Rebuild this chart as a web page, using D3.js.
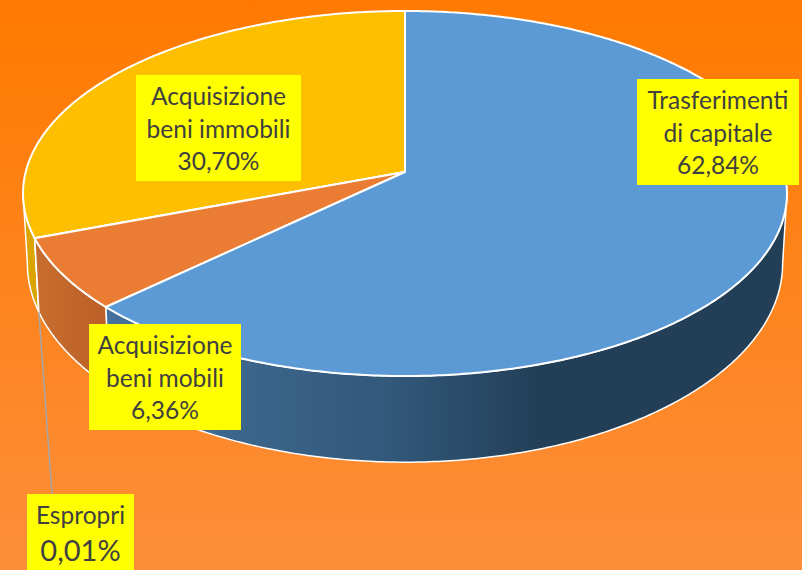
<!DOCTYPE html>
<html><head><meta charset="utf-8">
<script src="https://cdnjs.cloudflare.com/ajax/libs/d3/7.8.5/d3.min.js"></script>
<style>html,body{margin:0;padding:0;background:#fc8d38}svg{display:block}</style>
</head><body><svg id="c" width="802" height="570"></svg>
<script>
const categories = ["Trasferimenti di capitale","Acquisizione beni mobili","Espropri","Acquisizione beni immobili"];
const shares = [62.84,6.36,0.01,30.70];
const shareLabels = ["62,84%","6,36%","0,01%","30,70%"];
const labelLines = [["Trasferimenti","di capitale"],["Acquisizione","beni mobili"],["Espropri"],["Acquisizione","beni immobili"]];

const faceColors = ["#5b9ad5","#eb7c33","#a5a5a5","#fdbf00"];
const wallColors = ["url(#blueWall)","url(#orangeWall)","#8c8c8c","#dba400"];
// label box: x, y, w, h
const boxes = [[637,79,162,106],[89,324,152,106],[27,494,107,76],[136,75,165,106]];
const W=802,H=570,cx=405,k=0.1178;
const planes={top:{ax:379.3,ay:180,cy:172},bottom:{ax:375,ay:196,cy:240}};

const svg=d3.select("#c");
const defs=svg.append("defs");
function grad(id,stops,units){
  const g=defs.append("linearGradient").attr("id",id);
  if(units) g.attr("gradientUnits","userSpaceOnUse").attr("x1",units[0]).attr("y1",units[1]).attr("x2",units[2]).attr("y2",units[3]);
  stops.forEach(s=>g.append("stop").attr("offset",s[0]).attr("stop-color",s[1]));
}
grad("bg",[[0,"#ff7a00"],[1,"#fc8e3a"]],[0,0,0,H]);
grad("blueWall",[[0,"#44729c"],[0.42,"#32587a"],[0.64,"#233e57"],[1,"#233e57"]],[105,0,787,0]);
grad("orangeWall",[[0,"#c66d2e"],[1,"#bb6027"]],[40,0,105,0]);

svg.append("rect").attr("width",W).attr("height",H).attr("fill","url(#bg)");

function proj(a,p){
  const u=Math.sin(a),v=Math.cos(a),d=1+k*v,P=planes[p];
  return [cx+P.ax*u/d,P.cy-P.ay*v/d];
}
function arcPts(a0,a1,p){
  const n=Math.max(2,Math.ceil(Math.abs(a1-a0)/0.01));
  return d3.range(n+1).map(i=>proj(a0+(a1-a0)*i/n,p));
}
const line=d3.line();
const pie=d3.pie().sort(null).value(d=>d)(shares);

// walls are only visible on the front part, between the two silhouette tangents
const tanR=Math.acos(-k), tanL=2*Math.PI-tanR;
const wallOrder=[3,2,1,0];
svg.append("g").selectAll("path").data(wallOrder).join("path")
  .attr("d",i=>{
    const a0=Math.max(pie[i].startAngle,tanR), a1=Math.min(pie[i].endAngle,tanL);
    return line(arcPts(a0,a1,"top").concat(arcPts(a1,a0,"bottom")))+"Z";
  })
  .attr("fill",i=>wallColors[i]).attr("stroke","#fff").attr("stroke-width",1.5).attr("stroke-linejoin","round");

svg.append("g").selectAll("path").data([3,2,1,0]).join("path")
  .attr("d",i=>line([[cx,planes.top.cy]].concat(arcPts(pie[i].startAngle,pie[i].endAngle,"top")))+"Z")
  .attr("fill",i=>faceColors[i]).attr("stroke","#fff").attr("stroke-width",2).attr("stroke-linejoin","round");

// leader line for the tiny slice
const la=(pie[2].startAngle+pie[2].endAngle)/2, lp=proj(la,"bottom");
svg.append("line").attr("x1",lp[0]).attr("y1",lp[1]).attr("x2",52).attr("y2",494)
  .attr("stroke","#a6a6a6").attr("stroke-width",1.5);

const lab=svg.append("g").attr("font-family","Lato, 'Open Sans', sans-serif").attr("fill","#404040").attr("text-anchor","middle");
categories.forEach((c,i)=>{
  const b=boxes[i];
  lab.append("rect").attr("x",b[0]).attr("y",b[1]).attr("width",b[2]).attr("height",b[3]).attr("fill","#ffff00");
  const mx=b[0]+b[2]/2;
  const small=i===2;
  labelLines[i].forEach((t,j)=>{
    lab.append("text").attr("x",mx).attr("y",b[1]+29.5+j*33).attr("font-size",24.5).text(t);
  });
  lab.append("text").attr("x",mx).attr("y",small?b[1]+67:b[1]+95).attr("font-size",small?29:24.5).text(shareLabels[i]);
});
</script></body></html>
